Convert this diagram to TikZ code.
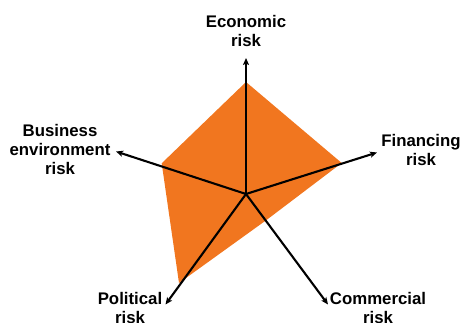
\documentclass[tikz,border=0pt]{standalone}
\usepackage{fontspec}
\setmainfont{Liberation Sans}
\usetikzlibrary{arrows.meta}
\definecolor{riskorange}{RGB}{241,118,31}
\tikzset{
  axisline/.style={line width=2.1pt, black, -{Stealth[length=7pt,width=6pt,inset=1.5pt]}},
  risklabel/.style={inner sep=0pt, anchor=north, align=center, font=\bfseries\fontsize{16.8}{19}\selectfont},
  riskarea/.style={fill=riskorange, draw=none}
}
\begin{document}
\begin{tikzpicture}[x=1pt,y=-1pt]
\useasboundingbox (0,0) rectangle (462,323);
\coordinate (c) at (246,194);
\coordinate (eco) at (246,58);
\coordinate (fin) at (377,152.5);
\coordinate (bus) at (116,151.5);
\coordinate (pol) at (165.5,304.5);
\coordinate (com) at (328,304.5);
\fill[riskarea] (246,82) -- (341.7,163) -- (266.5,220) -- (179,283) -- (161.7,163.3) -- cycle;
\draw[axisline] (c) -- (eco);
\draw[axisline] (c) -- (fin);
\draw[axisline] (c) -- (bus);
\draw[axisline] (c) -- (pol);
\draw[axisline] (c) -- (com);
\node[risklabel] (leco) at (246,15.5) {Economic\\risk};
\node[risklabel] (lfin) at (421,134.5) {Financing\\risk};
\node[risklabel] (lbus) at (60,124.5) {Business\\environment\\risk};
\node[risklabel] (lpol) at (130,292.5) {Political\\risk};
\node[risklabel] (lcom) at (378,292.5) {Commercial\\risk};
\end{tikzpicture}
\end{document}
